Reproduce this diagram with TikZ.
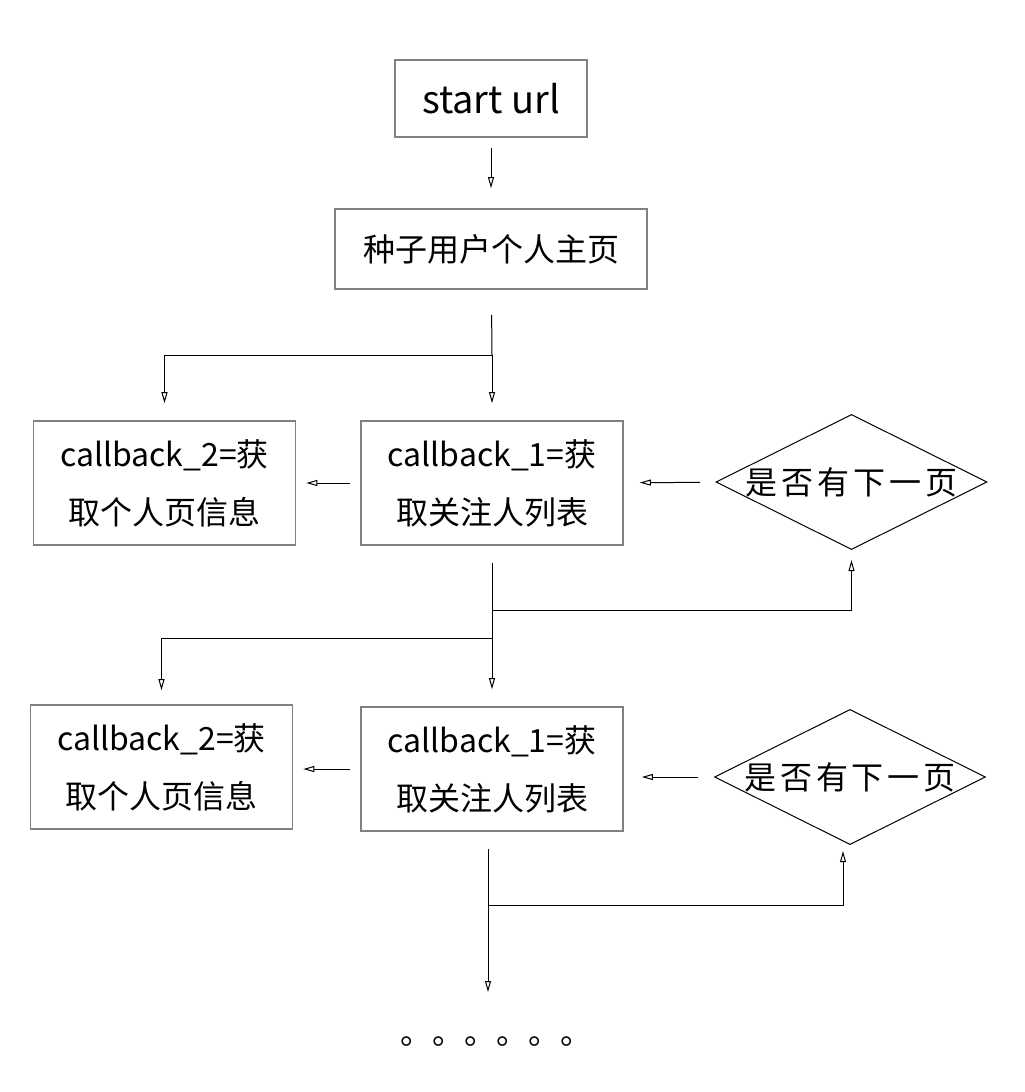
\documentclass[tikz,border=0pt]{standalone}
\usepackage{fontspec}
\setmainfont{Noto Sans CJK SC}
\usetikzlibrary{shapes.geometric,arrows.meta,positioning,calc}
\tikzstyle{block} = [rectangle, draw=gray, line width=0.8pt, align=center, inner sep=0pt, minimum width=131pt, minimum height=62pt]
\tikzstyle{decision} = [diamond, draw, line width=0.5pt, inner sep=0pt, shape aspect=2, minimum width=135.5pt, minimum height=65pt, font=\fontsize{16}{29}\selectfont\addfontfeature{LetterSpace=12}]
\tikzstyle{branch} = [coordinate]

\begin{document}
\begin{tikzpicture}[x=0.5pt, y=-0.5pt, line width=0.5pt, >={Triangle[open,length=5.5pt,width=3pt]},
    font=\fontsize{16}{29}\selectfont]
    \useasboundingbox (0,0) rectangle (1024,1092);
    \node[block, minimum width=96pt, minimum height=38.5pt, font=\fontsize{19}{24}\selectfont] (start) at (491,98.5) {start url};
    \node[block, minimum width=156pt, minimum height=40pt] (seed) at (491,249) {种子用户个人主页};

    % first page
    \node[block] (info1) at (164.5,483) {callback\_2=获\\取个人页信息};
    \node[block] (follow1) at (492,483) {callback\_1=获\\取关注人列表};
    \node[decision] (next1) at (851.5,482) {是否有下一页};

    % second page
    \node[block] (info2) at (161.5,767) {callback\_2=获\\取个人页信息};
    \node[block] (follow2) at (492,769) {callback\_1=获\\取关注人列表};
    \node[decision] (next2) at (850,777) {是否有下一页};

    \node[anchor=base west] (more) at (393,1044) {。。。。。。};

    \node[branch] (b1) at (492,355) {};
    \node[branch] (b2) at (492,610) {};
    \node[branch] (b3) at (492,638) {};
    \node[branch] (b4) at (488,905) {};
    \node[branch] (c4) at (843,905) {};
    \node[branch] (end) at (488,992) {};

    \draw[->, shorten <=5pt, shorten >=10pt] (start) -- (seed);
    \draw[shorten <=12.5pt] (seed) -- (b1);
    \draw[->, shorten >=8.5pt] (b1) -- (follow1);
    \draw[->, shorten >=8.5pt] (b1) -| (info1);
    \draw[->, shorten <=5pt, shorten >=5pt] (follow1) -- (info1);
    \draw[->, shorten <=8pt, shorten >=8pt] (next1) -- (follow1);
    \draw[shorten <=8.5pt] (follow1) -- (b3);
    \draw[->, shorten >=5pt] (b2) -| (next1);
    \draw[->, shorten >=8.5pt] (b3) -- (follow2);
    \draw[->, shorten >=7pt] (b3) -| (info2);
    \draw[->, shorten <=5pt, shorten >=5pt] (follow2) -- (follow2 -| info2.east);
    \draw[->, shorten <=8pt, shorten >=9pt] (next2.west) -- (next2.west -| follow2.east);
    \draw[shorten <=8.5pt] (follow2.south -| b4) -- (b4);
    \draw[->, shorten >=3pt] (b4) -- (c4) -- (c4 |- next2.south);
    \draw[->] (b4) -- (end);
\end{tikzpicture}
\end{document}
